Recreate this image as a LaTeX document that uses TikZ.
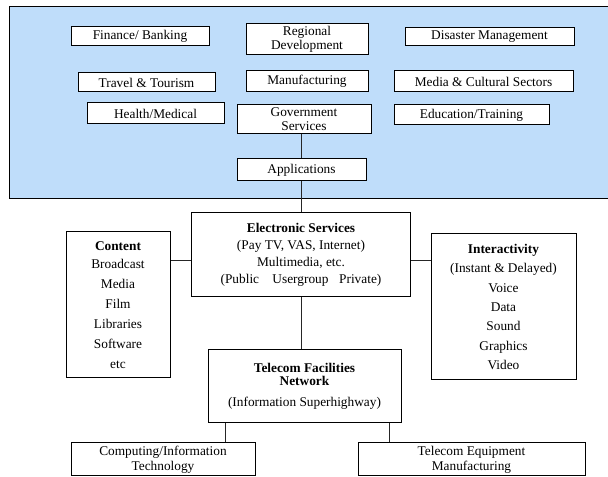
\documentclass[tikz,border=0pt]{standalone}
\usepackage{fontspec}
\setmainfont{Liberation Serif}
\usepackage{xcolor}
\usepackage{tikz}
\usetikzlibrary{positioning, calc}

\definecolor{panelblue}{RGB}{191,221,250}

\begin{document}
\begin{tikzpicture}[
    x=0.75pt, y=-0.75pt,
    box/.style={rectangle, draw=black, fill=white, line width=0.75pt, align=center, inner sep=1pt, font=\fontsize{10}{10.5}\selectfont},
    link/.style={draw=black!85, line width=0.75pt}
]
\useasboundingbox (0,0) rectangle (608,477);

% Top panel: application areas
\fill[panelblue] (9,7) rectangle (610,199);
\draw[line width=0.75pt] (610,7) -- (9,7) -- (9,199) -- (610,199);

\node[box, minimum width=103.5pt, minimum height=14.25pt] (fin) at (140,36.5) {Finance/ Banking};
\node[box, minimum width=91.5pt, minimum height=23.25pt] (reg) at (307,39.5) {Regional\\Development};
\node[box, minimum width=126.75pt, minimum height=13.5pt] (dis) at (489.5,37) {Disaster Management};
\node[box, minimum width=102.75pt, minimum height=14.25pt] (trav) at (146.5,82.5) {Travel \& Tourism};
\node[box, minimum width=91.5pt, minimum height=15.75pt] (manu) at (307,81.5) {Manufacturing};
\node[box, minimum width=134.25pt, minimum height=15.75pt] (media) at (483.5,81.5) {Media \& Cultural Sectors};
\node[box, minimum width=102.75pt, minimum height=15.75pt] (health) at (155.5,113.5) {Health/Medical};
\node[box, minimum width=100.5pt, minimum height=21.75pt] (gov) at (304,119.5) {Government\\Services};
\node[box, minimum width=116.25pt, minimum height=15pt] (edu) at (471.5,115) {Education/Training};
\node[box, minimum width=96.75pt, minimum height=16.5pt] (app) at (301.5,170) {Applications};

% Middle: services, content and interactivity
\node[box, minimum width=164.25pt, minimum height=63pt, font=\fontsize{10}{12.75}\selectfont] (es) at (301,255)
    {\textbf{Electronic Services}\\(Pay TV, VAS, Internet)\\Multimedia, etc.\\(Public\hspace{1em}Usergroup\hspace{0.8em}Private)};
\node[box, minimum width=78pt, minimum height=109.5pt, font=\fontsize{10}{15}\selectfont] (content) at (118,305)
    {\textbf{Content}\\[-1.5pt]Broadcast\\Media\\Film\\Libraries\\Software\\etc};
\node[box, minimum width=108.75pt, minimum height=109.5pt, font=\fontsize{10}{14.5}\selectfont] (inter) at (503.5,307)
    {\textbf{Interactivity}\\(Instant \& Delayed)\\Voice\\Data\\Sound\\Graphics\\Video};

% Bottom: network and industries
\node[box, minimum width=144.75pt, minimum height=54.75pt, font=\fontsize{10}{12}\selectfont] (tel) at (304.5,386.5)
    {\textbf{Telecom Facilities}\\[-2.25pt]\textbf{Network}\\[4pt](Information Superhighway)};
\node[box, minimum width=138pt, minimum height=24.75pt, font=\fontsize{10}{11.25}\selectfont] (comp) at (163,459.5) {Computing/Information\\Technology};
\node[box, minimum width=170.25pt, minimum height=24.75pt, font=\fontsize{10}{11.25}\selectfont] (equip) at (471.5,459.5) {Telecom Equipment\\Manufacturing};

% Links
\draw[link] (app.north) -- (app.north |- gov.south);
\draw[link] (app.south) -- (app.south |- es.north);
\draw[link] (es.183) -- (es.183 -| content.east);
\draw[link] (es.-3) -- (es.-3 -| inter.west);
\draw[link] (es.south) -- (es.south |- tel.north);
\draw[link] (tel.south west) ++(18,0) coordinate (tl) -- (tl |- comp.north);
\draw[link] (tel.south east) ++(-12,0) coordinate (tr) -- (tr |- equip.north);

\end{tikzpicture}
\end{document}
